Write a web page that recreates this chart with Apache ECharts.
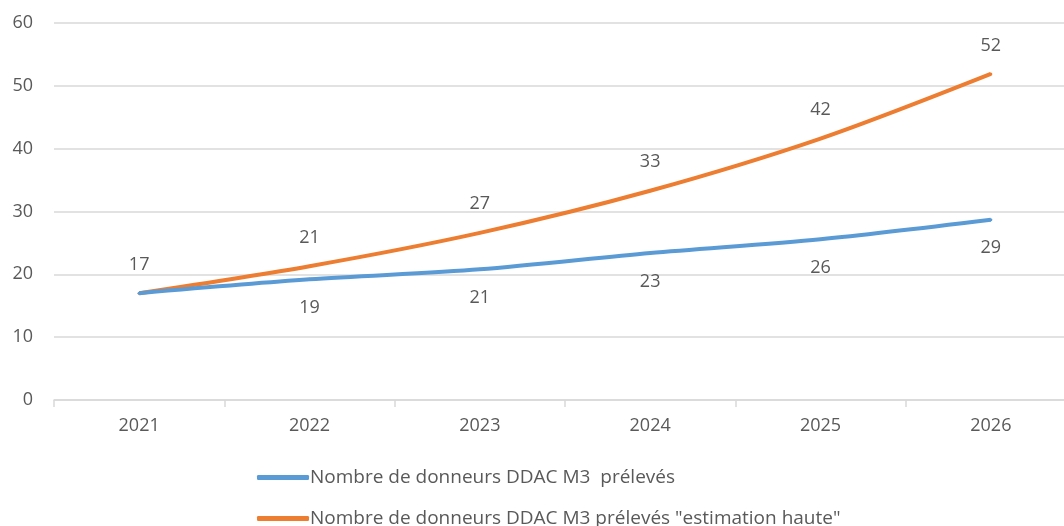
<!DOCTYPE html>
<html>
<head>
<meta charset="utf-8">
<script src="https://cdn.jsdelivr.net/npm/echarts@6/dist/echarts.min.js"></script>
<style>
  html, body { margin: 0; padding: 0; background: #fff; overflow: hidden; }
  #chart { width: 1080px; height: 526px; }
</style>
</head>
<body>
<div id="chart"></div>
<script>
// données
const years = ['2021', '2022', '2023', '2024', '2025', '2026'];
const preleves = [17, 19.2, 20.8, 23.4, 25.6, 28.7];
const estimationHaute = [17, 21.3, 26.6, 33.3, 41.6, 51.9];
const yTicks = [0, 10, 20, 30, 40, 50, 60];
const nomBleu = 'Nombre de donneurs DDAC M3  prélevés';
const nomOrange = 'Nombre de donneurs DDAC M3 prélevés "estimation haute"';

const FONT = '"Open Sans", "Liberation Sans", sans-serif';
const TEXT = '#595959';
const FS = 18;
const BLEU = '#5B9BD5';
const ORANGE = '#ED7D31';

const legendItem = (name, color, top) => ({
    left: 257,
    top: top,
    padding: 0,
    itemWidth: 52,
    itemHeight: 5,
    icon: 'roundRect',
    textStyle: { fontFamily: FONT, fontSize: 19, color: TEXT, padding: [0, 0, 0, -4] },
    data: [{ name: name, itemStyle: { color: color } }]
});

const chart = echarts.init(document.getElementById('chart'));
chart.setOption({
    animation: false,
    textStyle: { fontFamily: FONT, color: TEXT },
    grid: { left: 54, top: 23, right: 4, height: 377 },
    legend: [legendItem(nomBleu, BLEU, 468), legendItem(nomOrange, ORANGE, 509)],
    xAxis: {
        type: 'category',
        data: years,
        boundaryGap: true,
        axisLine: { lineStyle: { color: '#d9d9d9', width: 1.5 } },
        axisTick: { show: true, length: 7, lineStyle: { color: '#d9d9d9', width: 1.5 } },
        axisLabel: { color: TEXT, fontSize: FS, margin: 17, fontFamily: FONT }
    },
    yAxis: {
        type: 'value',
        min: yTicks[0],
        max: yTicks[yTicks.length - 1],
        interval: 10,
        axisLine: { show: false },
        axisTick: { show: false },
        axisLabel: { color: TEXT, fontSize: FS, margin: 21, fontFamily: FONT },
        splitLine: { lineStyle: { color: '#d9d9d9', width: 1.5 } }
    },
    series: [
        {
            name: nomBleu,
            type: 'line',
            data: preleves,
            smooth: 0.3,
            symbol: 'circle',
            symbolSize: 3,
            z: 3,
            lineStyle: { color: BLEU, width: 4 },
            itemStyle: { color: BLEU },
            label: {
                show: true,
                position: 'bottom',
                distance: 18,
                fontSize: FS,
                color: TEXT,
                fontFamily: FONT,
                formatter: p => p.dataIndex === 0 ? '' : String(Math.round(p.value))
            }
        },
        {
            name: nomOrange,
            type: 'line',
            data: estimationHaute,
            smooth: 0.3,
            symbol: 'circle',
            symbolSize: 3,
            z: 2,
            lineStyle: { color: ORANGE, width: 4 },
            itemStyle: { color: ORANGE },
            label: {
                show: true,
                position: 'top',
                distance: 18,
                fontSize: FS,
                color: TEXT,
                fontFamily: FONT,
                formatter: p => String(Math.round(p.value))
            }
        }
    ]
});
</script>
</body>
</html>
